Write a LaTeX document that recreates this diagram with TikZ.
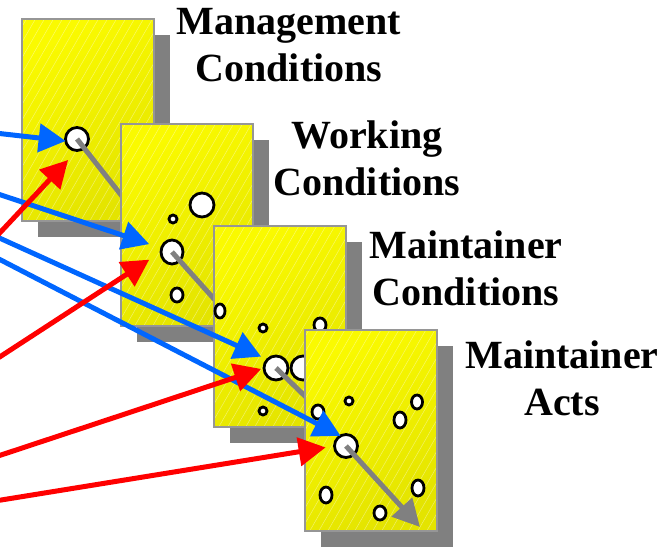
\documentclass[tikz,border=0pt]{standalone}
\usepackage{fontspec}
\setmainfont{Liberation Serif}
\usetikzlibrary{arrows.meta}
\usetikzlibrary{shadows}
\usetikzlibrary{shapes.geometric}

\definecolor{cardhi}{RGB}{250,250,0}
\definecolor{cardlo}{RGB}{228,228,0}
\definecolor{cardedge}{RGB}{150,150,150}
\definecolor{cardshade}{RGB}{128,128,128}
\definecolor{inblue}{RGB}{0,102,255}
\definecolor{inred}{RGB}{255,0,0}

\begin{document}
\begin{tikzpicture}[x=1pt,y=-1pt,
  card/.style={draw=cardedge,line width=2pt,minimum width=132pt,minimum height=201pt,inner sep=0pt,
    top color=cardhi,bottom color=cardlo,shading angle=30,
    drop shadow={shadow xshift=16pt,shadow yshift=-16pt,fill=cardshade,opacity=1},
    path picture={\foreach \k in {-130,-121,...,140}
      \draw[white,opacity=.4,line width=.5pt] ([xshift=\k pt]path picture bounding box.south west) -- ++(130pt,225pt);}},
  hole/.style={ellipse,draw=black,line width=2.8pt,fill=white,inner sep=0pt,outer sep=0pt},
  stem/.style={cardshade,line width=5pt},
  bluein/.style={inblue,line width=5pt,-{Triangle[length=27pt,width=28pt]}},
  redin/.style={inred,line width=5pt,-{Triangle[length=27pt,width=28pt]}},
  cardtitle/.style={font=\fontsize{40}{47}\selectfont\bfseries,align=center,inner sep=0pt,anchor=base}]

  \useasboundingbox (0,0) rectangle (663,548);

  \node[card] (card1) at (88,120) {};
  \node[hole,minimum width=23pt,minimum height=23pt] (m1) at (77,139) {};
  \coordinate (s1) at (125,200);
  \draw[stem] (m1.center) -- (s1);

  \node[card] (card2) at (187,225) {};
  \node[hole,minimum width=24pt,minimum height=24pt] (h21) at (202,205) {};
  \node[hole,minimum width=8pt,minimum height=8pt] (h22) at (173,219) {};
  \node[hole,minimum width=12pt,minimum height=14pt] (h23) at (177,295) {};
  \node[hole,minimum width=22pt,minimum height=24pt] (m2) at (172,252) {};
  \coordinate (s2) at (215,300);
  \draw[stem] (m2.center) -- (s2);

  \node[card] (card3) at (280,326) {};
  \node[hole,minimum width=10pt,minimum height=14pt] (h31) at (220,311) {};
  \node[hole,minimum width=8pt,minimum height=8pt] (h32) at (263,328) {};
  \node[hole,minimum width=12pt,minimum height=14pt] (h33) at (320,325) {};
  \node[hole,minimum width=24pt,minimum height=24pt] (h34) at (303,368) {};
  \node[hole,minimum width=8pt,minimum height=8pt] (h35) at (263,411) {};
  \node[hole,minimum width=24pt,minimum height=24pt] (m3) at (276,368) {};
  \coordinate (s3) at (310,401);
  \draw[stem] (m3.center) -- (s3);

  \node[card] (card4) at (371,430) {};
  \node[hole,minimum width=8pt,minimum height=8pt] (h41) at (349,401) {};
  \node[hole,minimum width=11pt,minimum height=14pt] (h42) at (417,402) {};
  \node[hole,minimum width=12pt,minimum height=16pt] (h43) at (400,420) {};
  \node[hole,minimum width=12pt,minimum height=14pt] (h44) at (318,412) {};
  \node[hole,minimum width=12pt,minimum height=16pt] (h45) at (326,495) {};
  \node[hole,minimum width=12pt,minimum height=16pt] (h46) at (418,488) {};
  \node[hole,minimum width=12pt,minimum height=14pt] (h47) at (380,513) {};
  \node[hole,minimum width=23pt,minimum height=23pt] (m4) at (346,446) {};
  \coordinate (s4) at (420,527);
  \draw[stem,-{Triangle[length=27pt,width=27pt]}] (m4.center) -- (s4);

  \node[cardtitle] (t1) at (289,82) {Management\\Conditions};
  \node[cardtitle] (t2) at (367,195) {Working\\Conditions};
  \node[cardtitle] (t3) at (466,305) {Maintainer\\Conditions};
  \node[cardtitle] (t4) at (562,415) {Maintainer\\Acts};

  \coordinate (b1) at (-5,133);
  \coordinate (b2) at (-5,193);
  \coordinate (b3) at (-5,236);
  \coordinate (b4) at (-5,257);
  \coordinate (r1) at (-5,238);
  \coordinate (r2) at (-5,360);
  \coordinate (r3) at (-5,457);
  \coordinate (r4) at (-5,501);

  \draw[bluein] (b1) -- (m1.190);
  \draw[bluein,shorten >=13pt] (b2) -- (m2.160);
  \draw[bluein,shorten >=7pt] (b3) -- (m3.135);
  \draw[bluein] (b4) -- (m4.118);
  \draw[redin,shorten >=13pt] (r1) -- (m1.south);
  \draw[redin,shorten >=14pt] (r2) -- (m2.west);
  \draw[redin,shorten >=3pt] (r3) -- (m3.west);
  \draw[redin,shorten >=9pt] (r4) -- (m4.west);
\end{tikzpicture}
\end{document}
